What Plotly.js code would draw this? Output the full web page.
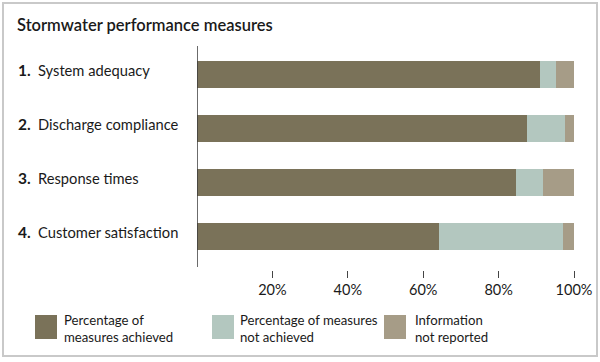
<!DOCTYPE html>
<html>
<head>
<meta charset="utf-8">
<script src="https://cdn.plot.ly/plotly-3.0.1.min.js"></script>
<style>
  html, body { margin: 0; padding: 0; background: #fff; }
  #wrap { position: relative; width: 600px; height: 362px; }
  #chart { width: 600px; height: 362px; }
  #frame { position: absolute; left: 2px; top: 2px; width: 592px; height: 351px;
           border: 2px solid #c9c9c9; pointer-events: none; }
</style>
</head>
<body>
<div id="wrap"><div id="chart"></div><div id="frame"></div></div>
<script>
// ---- data ----
var categories = ["System adequacy", "Discharge compliance", "Response times", "Customer satisfaction"];
var achieved = [91, 87.5, 84.5, 64.2];
var notAchieved = [4.2, 10.1, 7.2, 32.8];
var notReported = [4.8, 2.4, 8.3, 3.0];
var seriesNames = ["Percentage of<br>measures achieved", "Percentage of measures<br>not achieved", "Information<br>not reported"];
var tickValues = [20, 40, 60, 80, 100];
var tickLabels = ["20%", "40%", "60%", "80%", "100%"];
var chartTitle = "Stormwater performance measures";

// ---- style ----
var colors = ["#7a7259", "#b3c7bf", "#a69c87"];
var FONT = "Lato, 'Open Sans', sans-serif";
var W = 600, H = 362;
var M = {l: 197, r: 26, t: 46, b: 92};
var PW = W - M.l - M.r, PH = H - M.t - M.b;
function px(x) { return (x - M.l) / PW; }
function py(y) { return (H - M.b - y) / PH; }

var seriesValues = [achieved, notAchieved, notReported];
var traces = seriesValues.map(function (vals, i) {
  return {
    type: "bar", orientation: "h",
    x: vals, y: categories,
    name: seriesNames[i],
    marker: {color: colors[i], line: {width: 0}},
    width: 0.5,
    hoverinfo: "x+name"
  };
});

var annotations = [];
var shapes = [];
categories.forEach(function (c, i) {
  annotations.push({xref: "paper", yref: "y", x: px(16), y: c, xanchor: "left", yanchor: "middle",
    text: "<b>" + (i + 1) + ".</b>", showarrow: false, yshift: 5,
    font: {family: FONT, size: 15.5, color: "#1a1a1a"}});
  annotations.push({xref: "paper", yref: "y", x: px(36), y: c, xanchor: "left", yanchor: "middle",
    text: c, showarrow: false, yshift: 5,
    font: {family: FONT, size: 14.7, color: "#1a1a1a"}});
});

var swatchX = [35, 212, 384];
var textX = [62, 238, 413];
seriesNames.forEach(function (n, i) {
  shapes.push({type: "rect", xref: "paper", yref: "paper",
    x0: px(swatchX[i]), x1: px(swatchX[i] + 22), y0: py(339), y1: py(315),
    fillcolor: colors[i], line: {width: 0}});
  annotations.push({xref: "paper", yref: "paper", x: px(textX[i]), y: py(328),
    xanchor: "left", yanchor: "middle", align: "left", text: n, showarrow: false,
    font: {family: FONT, size: 13.2, color: "#1a1a1a"}});
});

// vertical axis line
shapes.push({type: "line", xref: "x", yref: "paper", x0: 0, x1: 0, y0: py(267), y1: 1,
  line: {color: "#3a3a3a", width: 1.5}});

var layout = {
  width: W, height: H,
  margin: M,
  paper_bgcolor: "#fff", plot_bgcolor: "#fff",
  barmode: "stack",
  showlegend: false,
  title: {text: chartTitle, x: 17 / W, xanchor: "left", y: 1 - 25 / H, yanchor: "middle",
    font: {family: FONT, size: 16.5, color: "#1a1a1a", weight: 600}},
  xaxis: {range: [0, 100], tickvals: tickValues, ticktext: tickLabels,
    showgrid: false, zeroline: false, showline: false,
    ticks: "outside", ticklen: 7, tickwidth: 1, tickcolor: "#444",
    tickfont: {family: FONT, size: 14.5, color: "#1a1a1a"}, fixedrange: true},
  yaxis: {type: "category", range: [3 + (H - M.b - 236.7) / 54, -(74.5 - M.t) / 54],
    showticklabels: false, showgrid: false, zeroline: false, showline: false, ticks: "", fixedrange: true},
  annotations: annotations,
  shapes: shapes,
  font: {family: FONT}
};

Plotly.newPlot("chart", traces, layout, {displayModeBar: false, staticPlot: true});
</script>
</body>
</html>
